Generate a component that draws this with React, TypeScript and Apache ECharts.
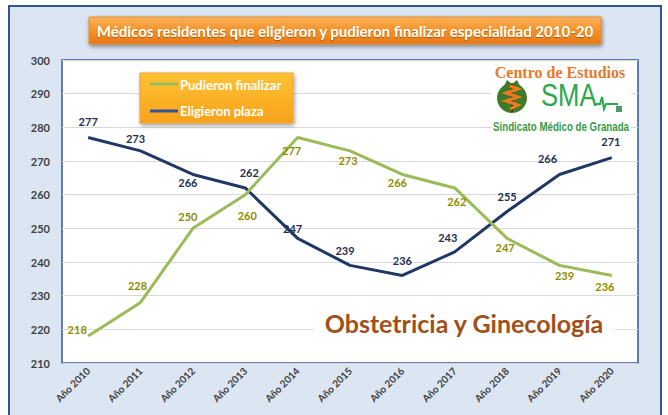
import React, { useEffect, useRef } from "react";
import * as echarts from "echarts";

const categories = ["Año 2010", "Año 2011", "Año 2012", "Año 2013", "Año 2014", "Año 2015", "Año 2016", "Año 2017", "Año 2018", "Año 2019", "Año 2020"];
const pudieronFinalizar = [218, 228, 250, 260, 277, 273, 266, 262, 247, 239, 236];
const eligieronPlaza = [277, 273, 266, 262, 247, 239, 236, 243, 255, 266, 271];
const yTicks = { min: 210, max: 300, interval: 10 };

const titleText = "Médicos residentes que eligieron y pudieron finalizar especialidad 2010-20";
const subjectText = "Obstetricia y Ginecología";

// label offsets (layout only)
const greenLabelOffsets: number[][] = [[-11, -7], [-3, -17], [-5, -12], [2, 21], [-6, 13], [-2, 10], [-5, 8], [2, 14], [-2, 9], [5, 10], [-7, 11]];
const navyLabelOffsets: number[][] = [[0, -16], [-5, -12], [-5, 8], [4, -15], [-5, -10], [-5, -15], [0, -15], [-7, -14], [0, -15], [-12, -16], [-1, -16]];

const FONT = "Lato, 'Open Sans', sans-serif";
const NAVY = "#1f3864";
const GREEN = "#9bbb59";

export default function App() {
  const ref = useRef<HTMLDivElement>(null);
  useEffect(() => {
    if (!ref.current) return;
    const chart = echarts.init(ref.current, undefined, { renderer: "svg" });
    const mkData = (vals: number[], offs: number[][]) =>
      vals.map((v, i) => ({ value: v, label: { offset: offs[i] } }));
    chart.setOption({
      animation: false,
      backgroundColor: "#ffffff",
      grid: {
        left: 62,
        right: 30,
        top: 60,
        bottom: 52,
        show: true,
        backgroundColor: "#ffffff",
        borderColor: "#2f5597",
        borderWidth: 1.5,
        z: 1,
      },
      xAxis: {
        type: "category",
        data: categories,
        boundaryGap: true,
        axisLine: { show: false },
        axisTick: { show: false },
        axisLabel: {
          rotate: 45,
          fontFamily: FONT,
          fontWeight: "bold",
          fontSize: 10,
          color: "#404040",
          margin: 6,
        },
        z: 2,
      },
      yAxis: {
        type: "value",
        min: yTicks.min,
        max: yTicks.max,
        interval: yTicks.interval,
        axisLine: { show: false },
        axisTick: { show: false },
        splitLine: { lineStyle: { color: "#d9d9d9", width: 1 } },
        axisLabel: {
          fontFamily: FONT,
          fontWeight: "bold",
          fontSize: 11,
          color: "#404040",
          margin: 12,
        },
        z: 2,
      },
      series: [
        {
          name: "Eligieron plaza",
          type: "line",
          data: mkData(eligieronPlaza, navyLabelOffsets),
          symbol: "circle",
          symbolSize: 1,
          showSymbol: true,
          lineStyle: { color: NAVY, width: 3 },
          itemStyle: { color: "rgba(0,0,0,0)" },
          label: {
            show: true,
            position: "inside",
            fontFamily: FONT,
            fontWeight: "bold",
            fontSize: 11,
            color: "#1f2f4f",
          },
          z: 5,
        },
        {
          name: "Pudieron finalizar",
          type: "line",
          data: mkData(pudieronFinalizar, greenLabelOffsets),
          symbol: "circle",
          symbolSize: 1,
          showSymbol: true,
          lineStyle: { color: GREEN, width: 3 },
          itemStyle: { color: "rgba(0,0,0,0)" },
          label: {
            show: true,
            position: "inside",
            fontFamily: FONT,
            fontWeight: "bold",
            fontSize: 11,
            color: "#8c8c00",
          },
          z: 6,
        },
      ],
      graphic: [
        {
          type: "rect",
          z: -10,
          silent: true,
          shape: { x: 9, y: 6, width: 652, height: 430 },
          style: { fill: "#dce6f2", stroke: "#2f5597", lineWidth: 2 },
        },
        // title
        {
          type: "rect",
          z: 50,
          shape: { x: 89, y: 17, width: 512, height: 27 },
          style: {
            fill: new echarts.graphic.LinearGradient(0, 0, 0, 1, [
              { offset: 0, color: "#fbb25e" },
              { offset: 0.5, color: "#f39226" },
              { offset: 1, color: "#e7781a" },
            ]),
            stroke: "#e58a2a",
            lineWidth: 1,
            shadowBlur: 4,
            shadowOffsetY: 2,
            shadowOffsetX: 1,
            shadowColor: "rgba(0,0,0,0.45)",
          },
        },
        {
          type: "text",
          z: 51,
          x: 345,
          y: 31,
          style: {
            text: titleText,
            fill: "#ffffff",
            font: `bold 15px ${FONT}`,
            align: "center",
            verticalAlign: "middle",
            textShadowColor: "rgba(0,0,0,0.3)",
            textShadowBlur: 1,
            textShadowOffsetY: 1,
          },
        },
        // legend
        {
          type: "rect",
          z: 50,
          shape: { x: 140, y: 73, width: 153, height: 50 },
          style: {
            fill: new echarts.graphic.LinearGradient(0, 0, 0, 1, [
              { offset: 0, color: "#fec233" },
              { offset: 1, color: "#f8a21c" },
            ]),
            stroke: "#f0a030",
            lineWidth: 1,
            shadowBlur: 4,
            shadowOffsetY: 2,
            shadowOffsetX: 1,
            shadowColor: "rgba(0,0,0,0.4)",
          },
        },
        {
          type: "line",
          z: 51,
          shape: { x1: 150, y1: 84, x2: 178, y2: 84 },
          style: { stroke: GREEN, lineWidth: 3 },
        },
        {
          type: "line",
          z: 51,
          shape: { x1: 150, y1: 111, x2: 178, y2: 111 },
          style: { stroke: "#2f5597", lineWidth: 3 },
        },
        {
          type: "text",
          z: 51,
          x: 180,
          y: 85,
          style: { text: "Pudieron finalizar", fill: "#ffffff", font: `bold 13px ${FONT}`, verticalAlign: "middle" },
        },
        {
          type: "text",
          z: 51,
          x: 180,
          y: 111,
          style: { text: "Eligieron plaza", fill: "#ffffff", font: `bold 13px ${FONT}`, verticalAlign: "middle" },
        },
        // logo
        {
          type: "rect",
          z: 40,
          shape: { x: 491, y: 61, width: 140, height: 73 },
          style: { fill: "#ffffff" },
        },
        {
          type: "text",
          z: 41,
          x: 560,
          y: 72,
          style: {
            text: "Centro de Estudios",
            fill: "#e8782a",
            font: "bold 16px 'Liberation Serif', serif",
            align: "center",
            verticalAlign: "middle",
          },
        },
        {
          type: "polygon",
          z: 41,
          shape: { points: [[504, 86], [507, 80], [512, 84], [517, 80], [520, 86]] },
          style: { fill: "#3f7a2a" },
        },
        {
          type: "circle",
          z: 41,
          shape: { cx: 512, cy: 98, r: 15 },
          style: { fill: "#3f7a2a" },
        },
        {
          type: "line",
          z: 42,
          shape: { x1: 512, y1: 84, x2: 512, y2: 112 },
          style: { stroke: "#3a2a10", lineWidth: 1.5 },
        },
        {
          type: "polyline",
          z: 43,
          shape: { points: [[510, 86], [518, 89], [506, 93], [518, 97], [506, 101], [518, 105], [510, 109]] },
          style: { stroke: "#f07a20", lineWidth: 3, fill: "none" },
        },
        {
          type: "text",
          z: 41,
          x: 541,
          y: 95,
          scaleX: 0.8,
          style: {
            text: "SMA",
            fill: "#2aa84a",
            font: "32px 'Liberation Sans', sans-serif",
            verticalAlign: "middle",
          },
        },
        {
          type: "polyline",
          z: 41,
          shape: { points: [[596, 104], [600, 104], [602, 97], [604, 109], [606, 104], [618, 104]] },
          style: { stroke: "#2aa84a", lineWidth: 2, fill: "none" },
        },
        {
          type: "rect",
          z: 41,
          shape: { x: 616, y: 106, width: 6, height: 6 },
          style: { fill: "#4a9a6a" },
        },
        {
          type: "text",
          z: 41,
          x: 561,
          y: 127,
          scaleX: 0.81,
          style: {
            text: "Sindicato Médico de Granada",
            fill: "#3a9a48",
            font: "bold 12px 'Liberation Sans', sans-serif",
            align: "center",
            verticalAlign: "middle",
          },
        },
        // subject
        {
          type: "rect",
          z: 40,
          shape: { x: 313, y: 303, width: 302, height: 40 },
          style: { fill: "#ffffff" },
        },
        {
          type: "text",
          z: 41,
          x: 464,
          y: 323,
          style: {
            text: subjectText,
            fill: "#a0501a",
            font: `bold 25px ${FONT}`,
            align: "center",
            verticalAlign: "middle",
          },
        },
      ],
    });
    return () => chart.dispose();
  }, []);
  return (
    <div
      ref={ref}
      style={{ position: "fixed", left: 0, top: 0, width: 668, height: 415 }}
    />
  );
}
